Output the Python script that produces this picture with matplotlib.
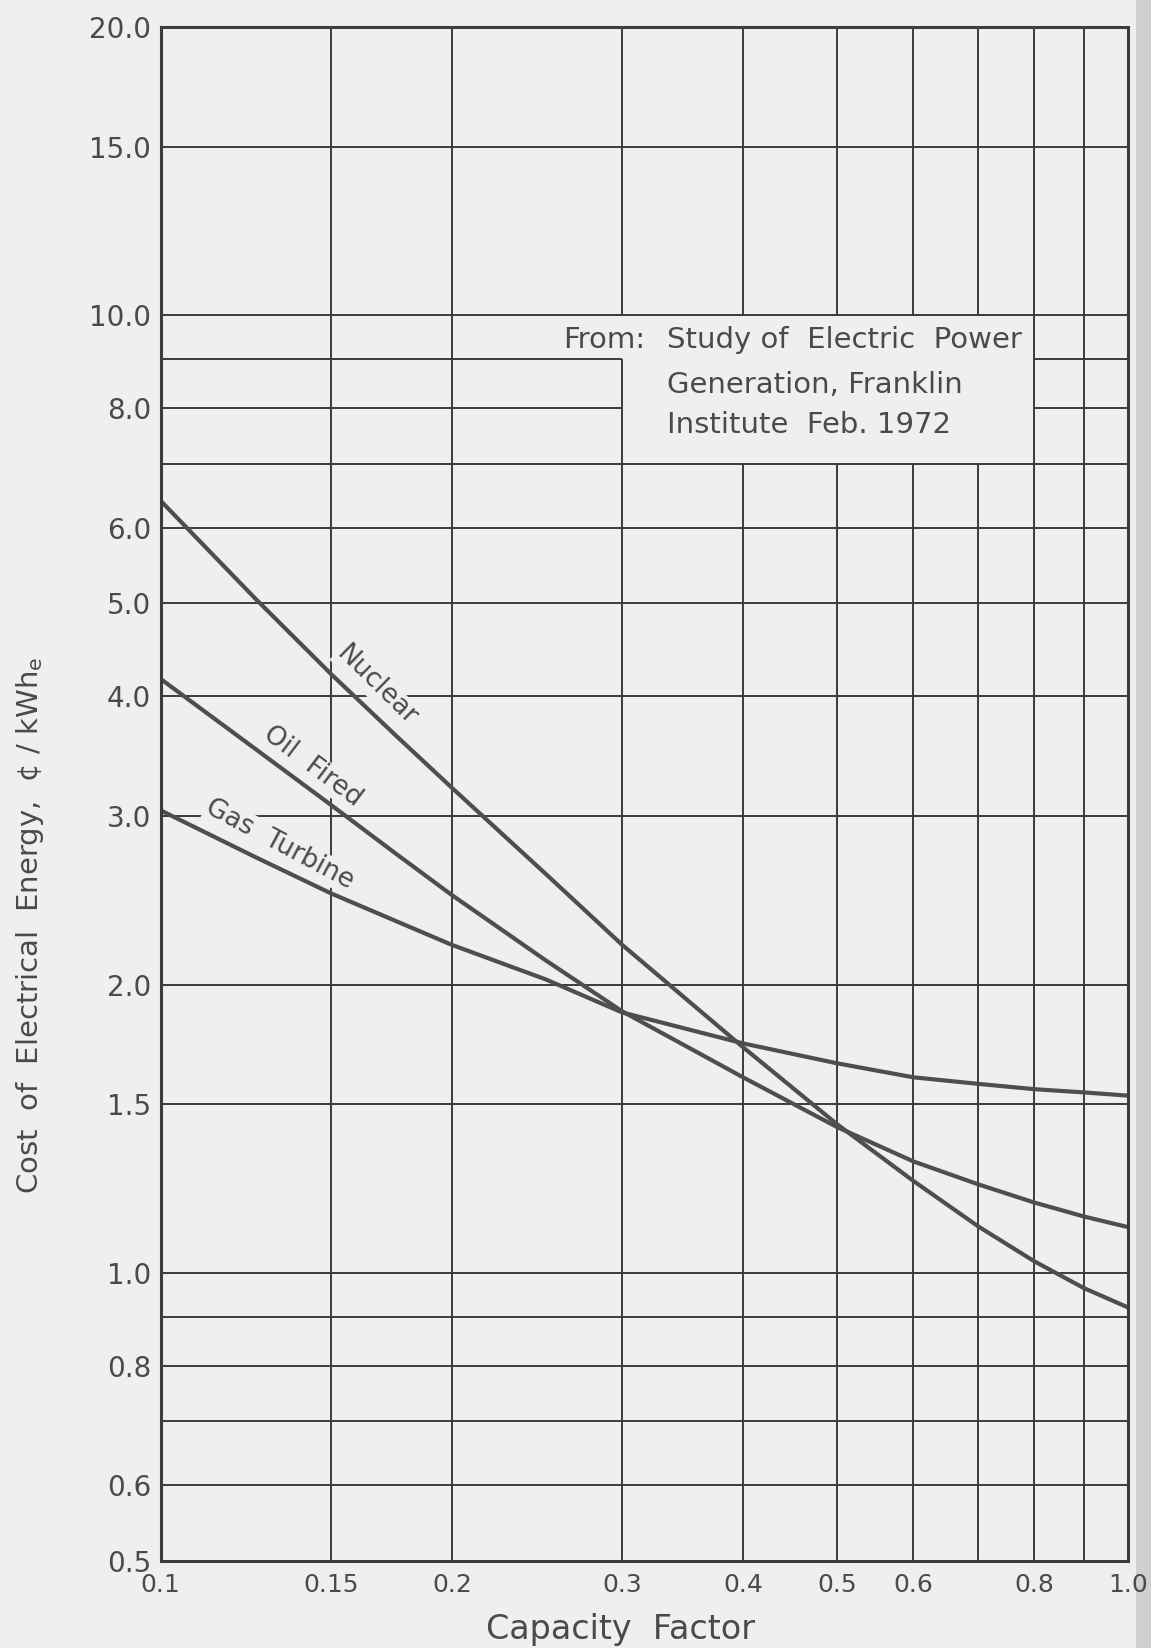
import matplotlib
matplotlib.use("Agg")
import matplotlib.pyplot as plt
from matplotlib.patches import Rectangle

# ---------------- data ----------------
capacity_factor = [0.1, 0.125, 0.15, 0.175, 0.2, 0.25, 0.3, 0.4, 0.5, 0.6, 0.7, 0.8, 0.9, 1.0]
nuclear = [6.4, 5.07, 4.22, 3.64, 3.21, 2.61, 2.2, 1.72, 1.43, 1.247, 1.118, 1.028, 0.964, 0.92]
oil_fired = [4.17, 3.53, 3.08, 2.74, 2.48, 2.12, 1.875, 1.60, 1.42, 1.307, 1.237, 1.184, 1.145, 1.116]
gas_turbine = [3.04, 2.72, 2.49, 2.33, 2.20, 2.025, 1.87, 1.736, 1.655, 1.60, 1.575, 1.555, 1.543, 1.531]

x_ticks = [0.1, 0.15, 0.2, 0.3, 0.4, 0.5, 0.6, 0.8, 1.0]
x_tick_labels = ["0.1", "0.15", "0.2", "0.3", "0.4", "0.5", "0.6", "0.8", "1.0"]
y_ticks = [0.5, 0.6, 0.8, 1.0, 1.5, 2.0, 3.0, 4.0, 5.0, 6.0, 8.0, 10.0, 15.0, 20.0]
y_tick_labels = ["0.5", "0.6", "0.8", "1.0", "1.5", "2.0", "3.0", "4.0", "5.0",
                 "6.0", "8.0", "10.0", "15.0", "20.0"]
x_grid = [0.15, 0.2, 0.3, 0.4, 0.5, 0.6, 0.7, 0.8, 0.9]
y_grid = [0.6, 0.7, 0.8, 0.9, 1.0, 1.5, 2.0, 3.0, 4.0, 5.0, 6.0, 7.0, 8.0, 9.0, 10.0, 15.0]

# ---------------- style ----------------
BG = "#efefef"
GRID = "#3c3c3c"
CURVE = "#4e4e4e"
TXT = "#4a4a4a"
plt.rcParams['font.family'] = ['DejaVu Sans']

W, H = 1151, 1648
fig = plt.figure(figsize=(W / 100, H / 100), dpi=100, facecolor=BG)
L, R, T, B = 160.7, 1128.0, 27.0, 1561.0
ax = fig.add_axes([L / W, 1 - B / H, (R - L) / W, (B - T) / H])
ax.set_facecolor(BG)
ax.set_xscale("log")
ax.set_yscale("log")
ax.set_xlim(0.1, 1.0)
ax.set_ylim(0.5, 20.0)

# grid lines (some interrupted by the source note box)
for xv in x_grid:
    if xv == 0.3:
        segs = [(0.5, 9.0), (10.0, 20.0)]
    elif xv in (0.4, 0.5, 0.6, 0.7):
        segs = [(0.5, 7.0), (10.0, 20.0)]
    else:
        segs = [(0.5, 20.0)]
    for y0, y1 in segs:
        ax.plot([xv, xv], [y0, y1], color=GRID, lw=1.4, zorder=1, solid_capstyle="butt")
for yv in y_grid:
    if yv in (8.0, 9.0):
        segs = [(0.1, 0.3), (0.8, 1.0)]
    else:
        segs = [(0.1, 1.0)]
    for x0, x1 in segs:
        ax.plot([x0, x1], [yv, yv], color=GRID, lw=1.4, zorder=1, solid_capstyle="butt")

for s in ax.spines.values():
    s.set_color(GRID)
    s.set_linewidth(2.2)
    s.set_zorder(4)

# curves
for series in (nuclear, oil_fired, gas_turbine):
    ax.plot(capacity_factor, series, color=CURVE, lw=3.0, zorder=3,
            solid_joinstyle="round", solid_capstyle="butt")

# ticks
ax.set_xticks(x_ticks)
ax.set_xticklabels(x_tick_labels)
ax.set_yticks(y_ticks)
ax.set_yticklabels(y_tick_labels)
ax.minorticks_off()
ax.tick_params(axis="both", length=0, colors=TXT)
ax.tick_params(axis="x", pad=9, labelsize=18)
ax.tick_params(axis="y", pad=7, labelsize=20)

# curve labels
lab_kw = dict(color=TXT, fontsize=19, ha="center", va="center",
              rotation_mode="anchor", zorder=2,
              bbox=dict(facecolor=BG, edgecolor="none", pad=1.0))
ax.text(0.1672, 4.10, "Nuclear", rotation=-44.5, **lab_kw)
ax.text(0.1435, 3.38, "Oil  Fired", rotation=-37, **lab_kw)
ax.text(0.1329, 2.80, "Gas  Turbine", rotation=-28, **lab_kw)

# source note
note_kw = dict(color=TXT, fontsize=21, transform=ax.transAxes, va="baseline", zorder=2)
ax.text(0.4159, 0.7907, "From:", ha="left", **note_kw)
ax.text(0.5234, 0.7907, "Study of  Electric  Power", ha="left", **note_kw)
ax.text(0.5234, 0.7614, "Generation, Franklin", ha="left", **note_kw)
ax.text(0.5234, 0.7353, "Institute  Feb. 1972", ha="left", **note_kw)

# axis titles
fig.text(620 / W, 1 - 1630 / H, "Capacity  Factor", ha="center", va="center",
         fontsize=24, color=TXT)
fig.text(30 / W, 1 - 925 / H, "Cost  of  Electrical  Energy,  ¢ / kWh$_\\mathregular{e}$",
         ha="center", va="center", rotation=90, fontsize=21, color=TXT)

# page edge shading at far right
fig.add_artist(Rectangle((1136 / W, 0), 15 / W, 1, transform=fig.transFigure,
                         facecolor="#cfcfcf", edgecolor="none", zorder=0))

fig.savefig("out.png", dpi=100, facecolor=BG)
